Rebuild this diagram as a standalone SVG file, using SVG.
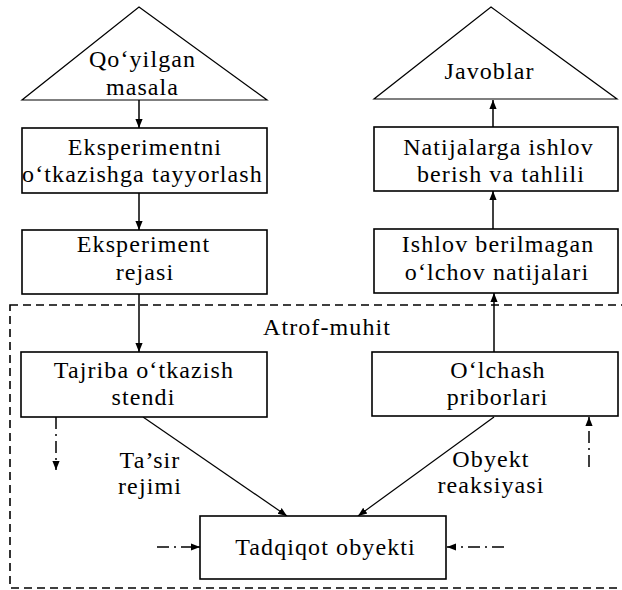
<svg xmlns="http://www.w3.org/2000/svg" width="622" height="590" viewBox="0 0 622 590">
<defs>
<style>
.box{fill:#fff;stroke:#000;stroke-width:1.6}
.tri{fill:#fff;stroke:#000;stroke-width:1.2}
.t{font-family:"Liberation Serif","Times New Roman",serif;font-size:24px;letter-spacing:1.1px;fill:#000;text-anchor:middle}
.c{fill:none;stroke:#000;stroke-width:1.5}
.cd{fill:none;stroke:#000;stroke-width:1.2}
.dd{fill:none;stroke:#000;stroke-width:1.5;stroke-dasharray:12 5 2 5}
.env{fill:none;stroke:#000;stroke-width:1.6;stroke-dasharray:8 5}
</style>
<marker id="ah" viewBox="0 0 10 10" refX="10" refY="5" markerWidth="9" markerHeight="9" markerUnits="userSpaceOnUse" orient="auto">
<path d="M0,1 L10,5 L0,9 Z" fill="#000"/>
</marker>
</defs>
<rect width="622" height="590" fill="#fff"/>

<g id="environment">
<rect class="env" x="10" y="305" width="630" height="283"/>
<text class="t" x="327" y="335">Atrof-muhit</text>
</g>

<g id="connectors">
<line class="c" x1="139" y1="100" x2="139" y2="128" marker-end="url(#ah)"/>
<line class="c" x1="139" y1="193" x2="139" y2="230" marker-end="url(#ah)"/>
<line class="c" x1="139" y1="294" x2="139" y2="352" marker-end="url(#ah)"/>
<line class="c" x1="493" y1="128" x2="493" y2="100" marker-end="url(#ah)"/>
<line class="c" x1="493" y1="229" x2="493" y2="191" marker-end="url(#ah)"/>
<line class="c" x1="494" y1="352" x2="494" y2="293" marker-end="url(#ah)"/>
<line class="cd" x1="143" y1="417" x2="287" y2="516" marker-end="url(#ah)"/>
<line class="cd" x1="494" y1="417" x2="358" y2="516" marker-end="url(#ah)"/>
<line class="dd" x1="56" y1="417" x2="56" y2="470" marker-end="url(#ah)"/>
<line class="dd" x1="589" y1="467" x2="589" y2="417" marker-end="url(#ah)"/>
<line class="dd" x1="157" y1="547" x2="200" y2="547" marker-end="url(#ah)"/>
<line class="dd" x1="504" y1="547" x2="447" y2="547" marker-end="url(#ah)"/>
<text class="t" x="150" y="468">Ta’sir</text>
<text class="t" x="150" y="494">rejimi</text>
<text class="t" x="491" y="467">Obyekt</text>
<text class="t" x="491" y="493">reaksiyasi</text>
</g>

<g id="qoyilgan">
<polygon class="tri" points="139,7 267,100 22,100"/>
<text class="t" x="142.5" y="67">Qo‘yilgan</text>
<text class="t" x="142.5" y="95">masala</text>
</g>

<g id="javoblar">
<polygon class="tri" points="491,7 617,99 374,99"/>
<text class="t" x="489.5" y="79">Javoblar</text>
</g>

<g id="tayyorlash">
<rect class="box" x="22" y="128" width="245" height="65"/>
<text class="t" x="145" y="155">Eksperimentni</text>
<text class="t" x="142.5" y="182">o‘tkazishga tayyorlash</text>
</g>

<g id="reja">
<rect class="box" x="22" y="230" width="245" height="64"/>
<text class="t" x="143.5" y="252">Eksperiment</text>
<text class="t" x="145" y="280">rejasi</text>
</g>

<g id="natijalarga">
<rect class="box" x="374" y="127" width="244" height="64"/>
<text class="t" x="498.5" y="155">Natijalarga ishlov</text>
<text class="t" x="501" y="182">berish va tahlili</text>
</g>

<g id="ishlov">
<rect class="box" x="374" y="229" width="244" height="64"/>
<text class="t" x="498" y="252">Ishlov berilmagan</text>
<text class="t" x="497" y="280">o‘lchov natijalari</text>
</g>

<g id="tajriba">
<rect class="box" x="21" y="352" width="246" height="65"/>
<text class="t" x="144" y="378">Tajriba o‘tkazish</text>
<text class="t" x="143.5" y="405">stendi</text>
</g>

<g id="olchash">
<rect class="box" x="372" y="352" width="246" height="64"/>
<text class="t" x="498" y="378">O‘lchash</text>
<text class="t" x="497.5" y="405">priborlari</text>
</g>

<g id="tadqiqot">
<rect class="box" x="200" y="516" width="246" height="63"/>
<text class="t" x="325.5" y="555">Tadqiqot obyekti</text>
</g>
</svg>
